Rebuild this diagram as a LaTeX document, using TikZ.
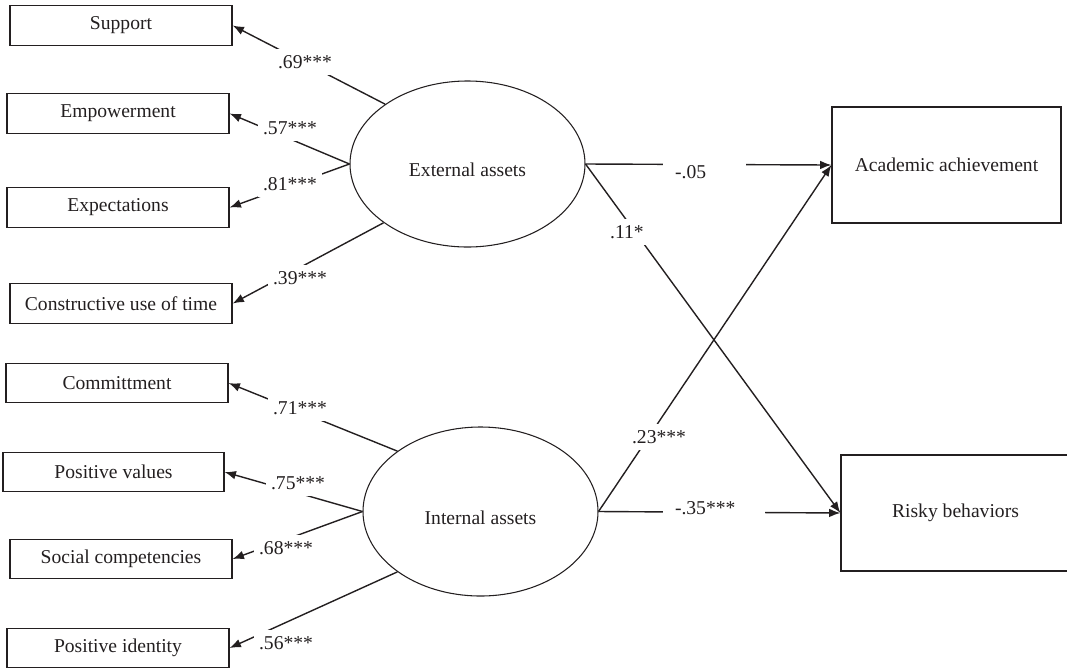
\documentclass[tikz,border=0pt]{standalone}
\usepackage{fontspec}
\setmainfont{Liberation Serif}
\usetikzlibrary{arrows.meta,shapes.geometric}
\definecolor{ink}{RGB}{35,31,32}
\begin{document}
\begin{tikzpicture}[x=0.75pt,y=-0.75pt,
  every node/.style={font=\fontsize{14.7}{17}\selectfont, text=ink},
  obs/.style={draw=ink, line width=0.9pt, rectangle, minimum width=166.5pt, minimum height=29.5pt, inner sep=0pt},
  lat/.style={draw=ink, line width=0.8pt, ellipse, minimum width=176.25pt, minimum height=124.5pt, inner sep=0pt, text height=19pt, text depth=0pt},
  outc/.style={draw=ink, line width=0.9pt, rectangle, minimum width=171.75pt, minimum height=87pt, inner sep=0pt},
  arr/.style={draw=ink, line width=1.05pt, -{Latex[length=8.5pt,width=6.5pt]}},
  coef/.style={fill=white, inner xsep=4pt, inner ysep=5pt}]
\useasboundingbox (0,0) rectangle (1067,669);

% indicators
\node[obs] (sup) at (121,25.5) {Support};
\node[obs] (emp) at (118,113.5) {Empowerment};
\node[obs] (exp) at (118,207.5) {Expectations};
\node[obs] (con) at (121,303.5) {Constructive use of time};
\node[obs] (com) at (117,383) {Committment};
\node[obs, minimum width=165.75pt] (pv) at (113.5,472) {Positive values};
\node[obs] (sc) at (121,559) {Social competencies};
\node[obs] (pi) at (118,648) {Positive identity};

% latent
\node[lat] (ext) at (467.5,164) {External assets};
\node[lat, minimum height=126.75pt] (int) at (480.5,511.5) {Internal assets};

% outcomes
\node[outc] (aca) at (946.5,165) {Academic achievement};
\node[outc] (risk) at (955.5,513) {Risky behaviors};

% loadings
\draw[arr] (ext.144.5) -- (sup.east);
\draw[arr] (ext.west) -- (emp.east);
\draw[arr] (ext.west) -- (exp.east);
\draw[arr] (ext.215) -- (con.east);
\draw[arr] (int.144.5) -- (com.east);
\draw[arr] (int.west) -- (pv.east);
\draw[arr] (int.west) -- (sc.east);
\draw[arr] (int.216) -- (pi.east);

% structural paths
\draw[arr] (ext.east) -- (aca.west);
\draw[arr] (ext.east) -- (risk.west);
\draw[arr] (int.east) -- (aca.west);
\draw[arr] (int.east) -- (risk.west);

% coefficients
\node[coef] (c1) at (305,62) {.69***};
\node[coef] (c2) at (290,128) {.57***};
\node[coef] (c3) at (290,184) {.81***};
\node[coef] (c4) at (300,278) {.39***};
\node[coef] (c5) at (300,408) {.71***};
\node[coef] (c6) at (298,483) {.75***};
\node[coef] (c7) at (286,548) {.68***};
\node[coef] (c8) at (286,643) {.56***};
\node[coef, inner xsep=9pt, text width=44pt, align=left] (c9) at (704.5,172) {-.05};
\node[coef] (c10) at (627,232) {.11*};
\node[coef] (c11) at (659,437) {.23***};
\node[coef, inner xsep=9pt, text width=58.5pt, align=left] (c12) at (714,508) {-.35***};
\end{tikzpicture}
\end{document}
